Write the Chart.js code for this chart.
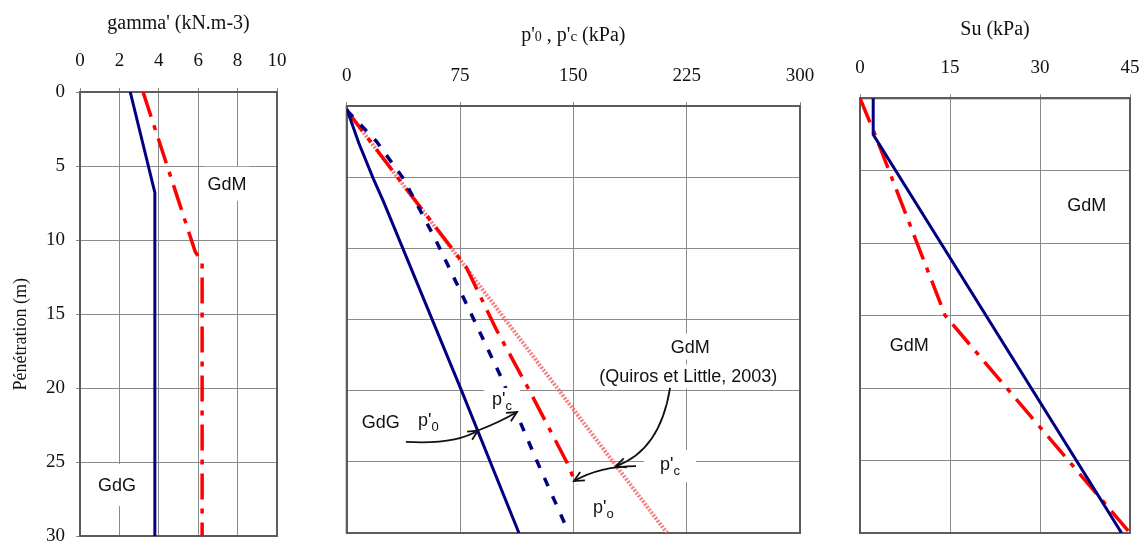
<!DOCTYPE html>
<html>
<head>
<meta charset="utf-8">
<script src="https://cdn.jsdelivr.net/npm/chart.js@4.4.1/dist/chart.umd.min.js"></script>
<style>
  html, body { margin: 0; padding: 0; background: #fff; }
  body { width: 1144px; height: 543px; position: relative; overflow: hidden; }
  .panneau { position: absolute; top: 0; height: 543px; }
</style>
</head>
<body>
<div class="panneau" style="left:0;width:300px"><canvas id="gamma"></canvas></div>
<div class="panneau" style="left:300px;width:530px"><canvas id="pression"></canvas></div>
<div class="panneau" style="left:830px;width:314px"><canvas id="su"></canvas></div>
<script>
"use strict"

// profondeur (m) et graduations
const depthTicks = [0, 5, 10, 15, 20, 25, 30]
const gammaTicks = [0, 2, 4, 6, 8, 10]
const pressionTicks = [0, 75, 150, 225, 300]
const suTicks = [0, 15, 30, 45]

// gamma' (kN.m-3)
const gammaGdG_x = [2.55, 3.8, 3.8]
const gammaGdG_z = [0, 6.8, 30]
const gammaGdM_x = [3.2, 5.85, 6.2, 6.2]
const gammaGdM_z = [0, 10.8, 11.5, 30]

// p'0 , p'c (kPa)
const p0GdG_x = [0, 8, 17.6, 24.3, 76, 95, 114]
const p0GdG_z = [0.2, 2.6, 5.1, 6.7, 20, 25, 30]
const pcGdG_x = [0, 19.8, 37.5, 58.4, 77, 101.5, 125.7, 145]
const pcGdG_z = [0.3, 2.5, 5.1, 9.3, 13.4, 18.9, 24.9, 29.5]
const p0GdM_x = [0, 40, 79, 99, 121, 146, 152]
const p0GdM_z = [0.3, 5.9, 11.3, 15.7, 20, 25.1, 26.6]
const pcQuiros_x = [0, 212]
const pcQuiros_z = [0.3, 30]

// Su (kPa)
const suGdG_x = [2.2, 2.2, 43.6]
const suGdG_z = [0, 2.5, 30]
const suGdM_x = [0, 2.5, 14.2, 45]
const suGdM_z = [0, 2.5, 15, 30]

const bleu = "#000080"
const rouge = "#ff0000"
const grille = "#8a8a8a"
const cadre = "#5c5c5c"
const serif = "'Liberation Serif', 'Times New Roman', serif"
const sans = "'Liberation Sans', Arial, sans-serif"

const pointille = [9, 11]
const mixte = [26, 9, 5, 9]

function ligne(xs, zs, couleur, dash, largeur) {
    return {
        data: xs.map((x, i) => ({ x: x, y: zs[i] })),
        showLine: true,
        borderColor: couleur,
        backgroundColor: couleur,
        borderWidth: largeur || 3,
        borderDash: dash || [],
        borderCapStyle: "butt",
        pointRadius: 0,
        tension: 0
    }
}

function axeX(ticks, hauteur, pad, titre) {
    return {
        type: "linear",
        position: "top",
        min: ticks[0],
        max: ticks[ticks.length - 1],
        afterBuildTicks: s => { s.ticks = ticks.map(v => ({ value: v })) },
        ticks: { padding: pad, color: "#111", font: { family: serif, size: 19 }, autoSkip: false, maxRotation: 0 },
        grid: { color: grille, tickLength: 4 },
        border: { color: cadre, width: 2 },
        title: titre || { display: false },
        afterFit: s => { s.height = hauteur; s.paddingLeft = 0; s.paddingRight = 0 }
    }
}

function axeZ(largeur, labels, titre) {
    return {
        type: "linear",
        reverse: true,
        min: 0,
        max: 30,
        afterBuildTicks: s => { s.ticks = depthTicks.map(v => ({ value: v })) },
        ticks: { display: labels, padding: 11, color: "#111", font: { family: serif, size: 19 } },
        grid: { color: grille, tickLength: 4, drawTicks: labels },
        border: { color: cadre, width: 2 },
        title: titre || { display: false },
        afterFit: s => { s.width = largeur; s.paddingTop = 0; s.paddingBottom = 0 }
    }
}

// cadre, etiquettes et fleches, places en coordonnees des axes
function decor(annot) {
    return {
        id: "decor",
        beforeDatasetsDraw(chart) {
            const a = chart.chartArea, ctx = chart.ctx
            ctx.save()
            ctx.strokeStyle = cadre
            ctx.lineWidth = 2
            ctx.strokeRect(a.left, a.top, a.right - a.left, a.bottom - a.top)
            ctx.restore()
        },
        afterDatasetsDraw(chart) {
            const ctx = chart.ctx
            const X = v => chart.scales.x.getPixelForValue(v)
            const Y = v => chart.scales.y.getPixelForValue(v)
            const textes = annot.textes || []
            ctx.save()
            // fonds blancs
            for (const e of textes) {
                if (!e.fond) continue
                const x = X(e.x), y = Y(e.z)
                ctx.font = "18px " + sans
                let w = ctx.measureText(e.t).width
                ctx.fillStyle = "#fff"
                if (e.sub) {
                    ctx.font = "13px " + sans
                    w += ctx.measureText(e.sub).width
                    ctx.fillRect(x - e.fond[0], y - 14 - e.fond[1], w + 2 * e.fond[0], 20 + 2 * e.fond[1])
                } else {
                    ctx.fillRect(x - w / 2 - e.fond[0], y - 9 - e.fond[1], w + 2 * e.fond[0], 18 + 2 * e.fond[1])
                }
            }
            ctx.fillStyle = "#111"
            for (const e of textes) {
                const x = X(e.x), y = Y(e.z)
                ctx.font = "18px " + sans
                if (e.sub) {
                    ctx.textAlign = "left"
                    ctx.textBaseline = "alphabetic"
                    const w1 = ctx.measureText(e.t).width
                    ctx.fillText(e.t, x, y)
                    ctx.font = "13px " + sans
                    ctx.fillText(e.sub, x + w1, y + 5)
                } else {
                    ctx.textAlign = "center"
                    ctx.textBaseline = "middle"
                    ctx.fillText(e.t, x, y + 1)
                }
            }
            ctx.strokeStyle = "#111"
            ctx.lineWidth = 1.8
            for (const f of annot.fleches || []) {
                const [p0, c, p1] = f.map(p => [X(p[0]), Y(p[1])])
                ctx.beginPath()
                ctx.moveTo(p0[0], p0[1])
                ctx.quadraticCurveTo(c[0], c[1], p1[0], p1[1])
                ctx.stroke()
                const ang = Math.atan2(p1[1] - c[1], p1[0] - c[0])
                ctx.beginPath()
                ctx.moveTo(p1[0] - 11 * Math.cos(ang - 0.45), p1[1] - 11 * Math.sin(ang - 0.45))
                ctx.lineTo(p1[0], p1[1])
                ctx.lineTo(p1[0] - 11 * Math.cos(ang + 0.45), p1[1] - 11 * Math.sin(ang + 0.45))
                ctx.stroke()
            }
            // titre compose (indices plus petits)
            if (annot.titre) {
                const a = chart.chartArea
                let total = 0
                for (const r of annot.titre) { ctx.font = r[1] + "px " + serif; total += ctx.measureText(r[0]).width }
                let x = (a.left + a.right) / 2 - total / 2
                ctx.textAlign = "left"
                ctx.textBaseline = "alphabetic"
                for (const r of annot.titre) {
                    ctx.font = r[1] + "px " + serif
                    ctx.fillText(r[0], x, annot.titreY)
                    x += ctx.measureText(r[0]).width
                }
            }
            ctx.restore()
        }
    }
}

const communs = {
    responsive: true,
    maintainAspectRatio: false,
    animation: false,
    events: [],
    plugins: { legend: { display: false }, tooltip: { enabled: false } }
}

new Chart(document.querySelector("#gamma"), {
    type: "scatter",
    data: {
        datasets: [
            ligne(gammaGdG_x, gammaGdG_z, bleu),
            ligne(gammaGdM_x, gammaGdM_z, rouge, mixte, 3.5)
        ]
    },
    options: Object.assign({}, communs, {
        layout: { padding: { left: 0, right: 23, top: 0, bottom: 7 } },
        scales: {
            x: axeX(gammaTicks, 92, 16, {
                display: true, text: "gamma' (kN.m-3)", color: "#111",
                font: { family: serif, size: 20 }, padding: { top: 12, bottom: 0 }
            }),
            y: axeZ(80, true, {
                display: true, text: "Pénétration (m)" + "\u00a0".repeat(9), color: "#111",
                font: { family: serif, size: 18 }, padding: { top: 10, bottom: 0 }
            })
        }
    }),
    plugins: [decor({
        textes: [
            { x: 7.46, z: 6.2, t: "GdM", fond: [3, 8] },
            { x: 1.88, z: 26.55, t: "GdG", fond: [3, 12] }
        ]
    })]
})

new Chart(document.querySelector("#pression"), {
    type: "scatter",
    data: {
        datasets: [
            ligne(p0GdG_x, p0GdG_z, bleu),
            ligne(pcGdG_x, pcGdG_z, bleu, pointille, 3.5),
            ligne(p0GdM_x, p0GdM_z, rouge, mixte, 3.5),
            ligne(pcQuiros_x, pcQuiros_z, "rgba(240,95,95,0.8)", [2, 1.5], 4)
        ]
    },
    options: Object.assign({}, communs, {
        layout: { padding: { left: 0, right: 30, top: 0, bottom: 10 } },
        scales: {
            x: axeX(pressionTicks, 106, 15),
            y: axeZ(46.7, false)
        }
    }),
    plugins: [decor({
        titre: [["p'", 20], ["0", 14], [" , p'", 20], ["c", 15], [" (kPa)", 20]],
        titreY: 41,
        textes: [
            { x: 22.6, z: 22.2, t: "GdG" },
            { x: 47.2, z: 22.49, t: "p'", sub: "0" },
            { x: 96.2, z: 21.0, t: "p'", sub: "c", fond: [8, 3] },
            { x: 227.3, z: 16.9, t: "GdM", fond: [6, 4] },
            { x: 226, z: 19.0, t: "(Quiros et Little, 2003)", fond: [4, 3] },
            { x: 207.3, z: 25.58, t: "p'", sub: "c", fond: [16, 6] },
            { x: 163, z: 28.6, t: "p'", sub: "o" }
        ],
        fleches: [
            [[39.2, 23.6], [71.7, 23.8], [86.9, 22.8]],
            [[86.9, 22.8], [101.5, 22.2], [112.7, 21.5]],
            [[214, 19.8], [207.4, 24.2], [178.2, 25.3]],
            [[191.5, 25.3], [167.7, 25.3], [150.4, 26.35]]
        ]
    })]
})

new Chart(document.querySelector("#su"), {
    type: "scatter",
    data: {
        datasets: [
            ligne(suGdG_x, suGdG_z, bleu),
            ligne(suGdM_x, suGdM_z, rouge, mixte, 3.5)
        ]
    },
    options: Object.assign({}, communs, {
        layout: { padding: { left: 0, right: 14, top: 0, bottom: 10 } },
        scales: {
            x: axeX(suTicks, 98.3, 15, {
                display: true, text: "Su (kPa)", color: "#111",
                font: { family: serif, size: 20 }, padding: { top: 18, bottom: 0 }
            }),
            y: axeZ(30, false)
        }
    }),
    plugins: [decor({
        textes: [
            { x: 37.8, z: 7.4, t: "GdM" },
            { x: 8.2, z: 17.0, t: "GdM" }
        ]
    })]
})
</script>
</body>
</html>
